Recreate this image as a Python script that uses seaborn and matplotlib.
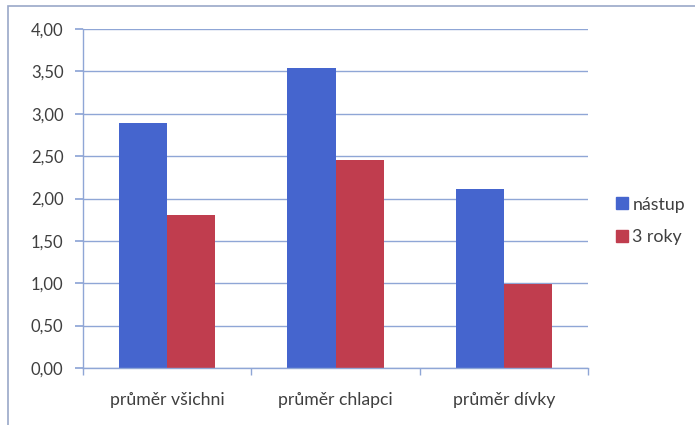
import matplotlib
matplotlib.use("Agg")
import matplotlib.pyplot as plt
import seaborn as sns
import pandas as pd
from matplotlib.patches import Rectangle
from matplotlib.ticker import FuncFormatter, MultipleLocator

categories = ["průměr všichni", "průměr chlapci", "průměr dívky"]
series_names = ["nástup", "3 roky"]
nastup = [2.89, 3.54, 2.11]
tri_roky = [1.80, 2.45, 0.99]
colors = ["#4565CE", "#C03D4E"]

rows = []
for c, v in zip(categories, nastup):
    rows.append({"cat": c, "serie": series_names[0], "val": v})
for c, v in zip(categories, tri_roky):
    rows.append({"cat": c, "serie": series_names[1], "val": v})
df = pd.DataFrame(rows)

sns.set_theme(style="white")
plt.rcParams["font.family"] = ["Lato", "DejaVu Sans"]

fig = plt.figure(figsize=(6.95, 4.25), dpi=100)
ax = fig.add_axes([83/695, 57/425, 505/695, 339/425])

sns.barplot(data=df, x="cat", y="val", hue="serie", palette=colors,
            width=0.571, gap=0, saturation=1, ax=ax, legend=False,
            edgecolor="none", linewidth=0)

grid_c = "#8FA6D6"
txt_c = "#3F3F3F"
ax.set_ylim(0, 4)
ax.set_xlim(-0.5, 2.5)
ax.yaxis.set_major_locator(MultipleLocator(0.5))
ax.yaxis.set_major_formatter(FuncFormatter(lambda v, p: f"{v:.2f}".replace(".", ",")))
ax.grid(axis="y", color=grid_c, linewidth=1.0)
ax.set_axisbelow(True)
for s in ["top", "right"]:
    ax.spines[s].set_visible(False)
for s in ["left", "bottom"]:
    ax.spines[s].set_color(grid_c)
    ax.spines[s].set_linewidth(1.0)
ax.set_xlabel("")
ax.set_ylabel("")
ax.tick_params(axis="y", left=True, length=6, color=grid_c, labelsize=12,
               labelcolor=txt_c, pad=8)
ax.tick_params(axis="x", bottom=False, labelsize=12.7, labelcolor=txt_c, pad=11)
ax.set_xticks([-0.5, 0.5, 1.5, 2.5], minor=True)
ax.tick_params(axis="x", which="minor", bottom=True, length=5, color=grid_c, direction="out")

handles = [Rectangle((0, 0), 1, 1, color=c) for c in colors]
fig.legend(handles, series_names, loc="center left", bbox_to_anchor=(0.864, 0.48),
           frameon=False, fontsize=12.8, handlelength=0.65, handleheight=0.65,
           handletextpad=0.25, labelspacing=0.95, labelcolor=txt_c)

border = Rectangle((8/695, -0.05), 1.0, 0.05 + 419/425, transform=fig.transFigure,
                   fill=False, edgecolor="#9AA8C8", linewidth=1.2)
fig.patches.append(border)

fig.savefig("out.png", dpi=100)
